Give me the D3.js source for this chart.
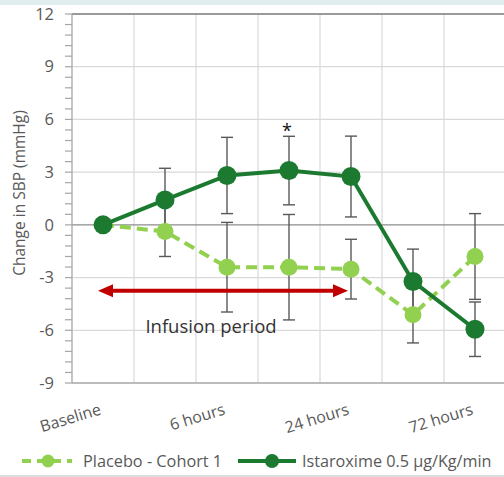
<!DOCTYPE html>
<html><head><meta charset="utf-8">
<script src="https://cdn.jsdelivr.net/npm/d3@7"></script>
<style>
html,body{margin:0;padding:0;background:#fff;}
svg{display:block;font-family:"Open Sans",sans-serif;}
</style></head>
<body>
<script>
// ---- data ----
const categories = ["Baseline", "1 hour", "6 hours", "12 hours", "24 hours", "48 hours", "72 hours"];
const shownLabels = ["Baseline", "6 hours", "24 hours", "72 hours"];
const placeboValues = [0, -0.38, -2.41, -2.41, -2.52, -5.12, -1.80];
const placeboErrors = [0, 1.42, 2.55, 3.0, 1.7, 1.6, 2.44];
const istaroximeValues = [0, 1.42, 2.81, 3.09, 2.75, -3.22, -5.94];
const istaroximeErrors = [0, 1.8, 2.17, 1.95, 2.3, 1.84, 1.55];
const yTicks = [-9, -6, -3, 0, 3, 6, 9, 12];
const significant = ["12 hours"];
const infusionSpan = ["Baseline", "24 hours"];
const infusionLevel = -3.75;
const seriesNames = ["Placebo - Cohort 1", "Istaroxime 0.5 µg/Kg/min"];

const W = 504, H = 477;
const svg = d3.select("body").append("svg").attr("width", W).attr("height", H);

// top strip and bottom border
svg.append("rect").attr("x",0).attr("y",0).attr("width",W).attr("height",5).attr("fill","#e1eef0");
svg.append("line").attr("x1",0).attr("x2",W).attr("y1",476).attr("y2",476).attr("stroke","#d0d0d0").attr("stroke-width",1.5);

const x = d3.scaleBand().domain(categories).range([72, 506]).padding(0);
const cx = c => x(c) + x.bandwidth()/2;
const y = d3.scaleLinear().domain([-9, 12]).range([383, 14]);

// vertical gridlines
svg.append("g").selectAll("line").data(categories.slice(1).concat(["_end"]))
  .join("line")
  .attr("x1",(d,i)=>x(categories[0]) + (i+1)*x.bandwidth())
  .attr("x2",(d,i)=>x(categories[0]) + (i+1)*x.bandwidth())
  .attr("y1",y(12)).attr("y2",y(-9))
  .attr("stroke","#d9d9d9").attr("stroke-width",1.2);

// horizontal gridlines
svg.append("g").selectAll("line").data(yTicks.filter(t=>t!==0 && t!==-9 && t!==12))
  .join("line")
  .attr("x1",72).attr("x2",W).attr("y1",d=>y(d)).attr("y2",d=>y(d))
  .attr("stroke","#d9d9d9").attr("stroke-width",1.2);
svg.append("line").attr("x1",72).attr("x2",W).attr("y1",y(12)).attr("y2",y(12))
  .attr("stroke","#9a9a9a").attr("stroke-width",2);
svg.append("line").attr("x1",72).attr("x2",W).attr("y1",y(-9)).attr("y2",y(-9))
  .attr("stroke","#a6a6a6").attr("stroke-width",1.5);
svg.append("line").attr("x1",72).attr("x2",W).attr("y1",y(0)).attr("y2",y(0))
  .attr("stroke","#8c8c8c").attr("stroke-width",1.3);

// y axis with minor ticks
const minor = d3.range(0, 36).map(i => -9 + i*0.6).filter(v=>v<=12.001);
const gy = svg.append("g");
gy.append("line").attr("x1",72).attr("x2",72).attr("y1",y(12)).attr("y2",y(-9)).attr("stroke","#a6a6a6").attr("stroke-width",1.3);
gy.selectAll("line.minor").data(minor).join("line").attr("class","minor")
  .attr("x1",65).attr("x2",72).attr("y1",d=>y(d)).attr("y2",d=>y(d))
  .attr("stroke","#a6a6a6").attr("stroke-width",1.2);
const yAxis = d3.axisLeft(y).tickValues(yTicks).tickSize(0).tickPadding(0).tickFormat(d => String(d));
const yg = svg.append("g").attr("transform","translate(54,0)").call(yAxis);
yg.select(".domain").remove();
yg.selectAll("text").attr("fill","#595959").style("font-size","16.5px").style("font-family","'Open Sans',sans-serif");

// y axis title
svg.append("text").attr("transform","translate(25,193) rotate(-90)")
  .attr("text-anchor","middle").attr("fill","#595959").style("font-size","15.5px")
  .text("Change in SBP (mmHg)");

// x labels
const xAxis = d3.axisBottom(x).tickSize(0).tickFormat(d => shownLabels.includes(d) ? d : "");
const xg = svg.append("g").call(xAxis);
xg.select(".domain").remove();
xg.selectAll(".tick").attr("transform", d => `translate(${cx(d)-1},414)`);
xg.selectAll(".tick text").attr("y",0).attr("dy",0).attr("x",0)
  .attr("text-anchor","end").attr("transform","rotate(-17)")
  .attr("fill","#595959").style("font-size","16px").style("font-family","'Open Sans',sans-serif");

const dark = "#1b7a30", light = "#92d050", errCol = "#595959";

// error bars
function errorBars(vals, errs){
  const g = svg.append("g");
  categories.forEach((c,i)=>{
    if(!errs[i]) return;
    const xx = cx(c), hi = y(vals[i]+errs[i]), lo = y(vals[i]-errs[i]);
    g.append("line").attr("x1",xx).attr("x2",xx).attr("y1",hi).attr("y2",lo).attr("stroke",errCol).attr("stroke-width",1.4);
    [hi,lo].forEach(v=>g.append("line").attr("x1",xx-6).attr("x2",xx+6).attr("y1",v).attr("y2",v).attr("stroke",errCol).attr("stroke-width",1.4));
  });
}
errorBars(placeboValues, placeboErrors);
errorBars(istaroximeValues, istaroximeErrors);

const line = d3.line().x((d,i)=>cx(categories[i])).y(d=>y(d));

// placebo
svg.append("path").datum(placeboValues).attr("d",line).attr("fill","none")
  .attr("stroke",light).attr("stroke-width",4).attr("stroke-dasharray","11,6");
svg.append("g").selectAll("circle").data(placeboValues).join("circle")
  .attr("cx",(d,i)=>cx(categories[i])).attr("cy",d=>y(d)).attr("r",8.5).attr("fill",light);

// istaroxime
svg.append("path").datum(istaroximeValues).attr("d",line).attr("fill","none")
  .attr("stroke",dark).attr("stroke-width",4);
svg.append("g").selectAll("circle").data(istaroximeValues).join("circle")
  .attr("cx",(d,i)=>cx(categories[i])).attr("cy",d=>y(d)).attr("r",9.5).attr("fill",dark);

// significance asterisk
significant.forEach(c=>{
  const i = categories.indexOf(c);
  svg.append("text").attr("x",cx(c)-2).attr("y",y(istaroximeValues[i]+istaroximeErrors[i])+1)
    .attr("text-anchor","middle").attr("fill","#111").style("font-size","18px").text("*");
});

// infusion arrow
const red = "#c00000";
const ax1 = cx(infusionSpan[0]) - 5, ax2 = cx(infusionSpan[1]) - 3, ay = y(infusionLevel);
svg.append("line").attr("x1",ax1+12).attr("x2",ax2-12).attr("y1",ay).attr("y2",ay).attr("stroke",red).attr("stroke-width",4);
svg.append("path").attr("d",`M${ax1},${ay} L${ax1+15},${ay-6.5} L${ax1+15},${ay+6.5} Z`).attr("fill",red);
svg.append("path").attr("d",`M${ax2},${ay} L${ax2-15},${ay-6.5} L${ax2-15},${ay+6.5} Z`).attr("fill",red);
svg.append("text").attr("x",211).attr("y",333).attr("text-anchor","middle")
  .attr("fill","#333").style("font-size","18.5px").text("Infusion period");

// legend
const ly = 461;
const lg = svg.append("g");
lg.append("line").attr("x1",22).attr("x2",72).attr("y1",ly).attr("y2",ly).attr("stroke",light).attr("stroke-width",4).attr("stroke-dasharray","9,6");
lg.append("circle").attr("cx",48).attr("cy",ly).attr("r",6.5).attr("fill",light);
lg.append("text").attr("x",83).attr("y",ly+5.5).attr("fill","#595959").style("font-size","16.3px").text(seriesNames[0]);
lg.append("line").attr("x1",238).attr("x2",296).attr("y1",ly).attr("y2",ly).attr("stroke",dark).attr("stroke-width",4);
lg.append("circle").attr("cx",272).attr("cy",ly).attr("r",7).attr("fill",dark);
lg.append("text").attr("x",302).attr("y",ly+5.5).attr("fill","#595959").style("font-size","16.2px").text(seriesNames[1]);
</script>
</body></html>
